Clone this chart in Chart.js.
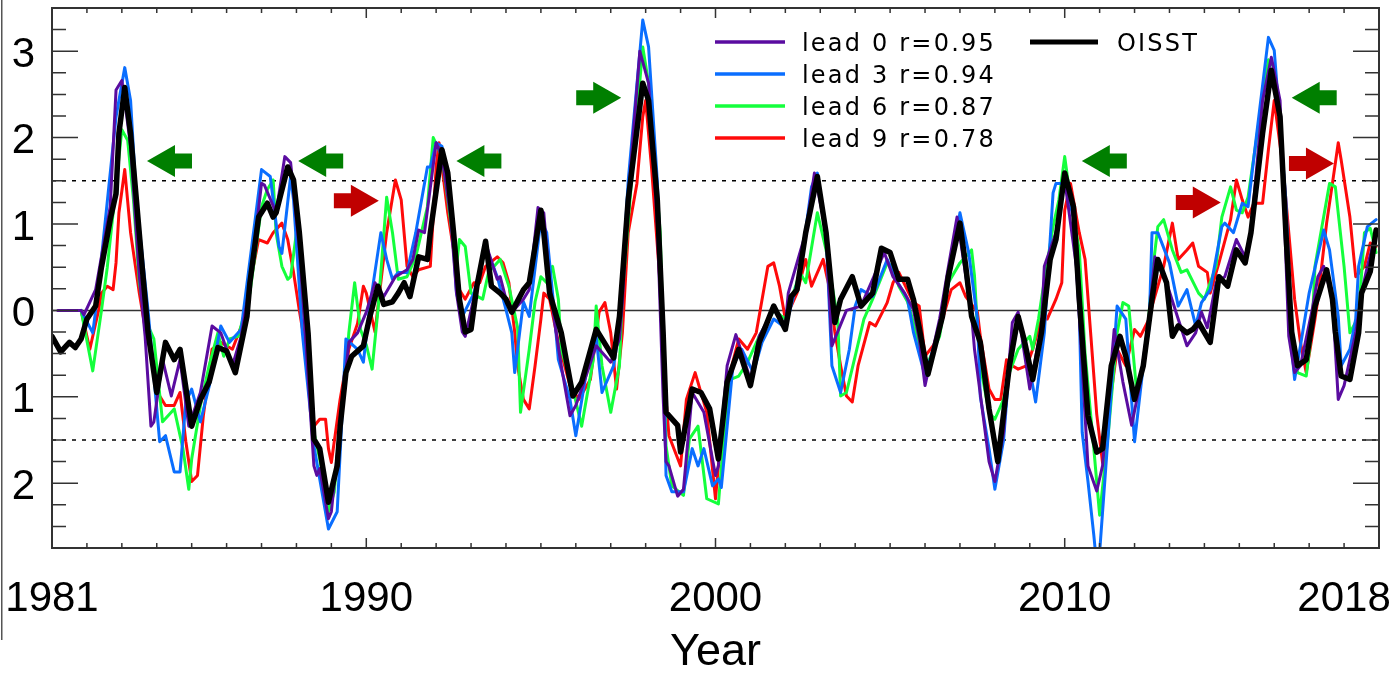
<!DOCTYPE html>
<html>
<head>
<meta charset="utf-8">
<script src="https://cdn.jsdelivr.net/npm/chart.js@4/dist/chart.umd.min.js"></script>
<style>
    html, body { margin: 0; padding: 0; background: #fff; }
    #wrap { width: 1395px; height: 673px; }
</style>
</head>
<body>
<div id="wrap"><canvas id="ninoChart" width="1395" height="673"></canvas></div>
<script>
// [month since Jan 1981, anomaly]
const oisst = [[0,-0.30],[3,-0.48],[6,-0.37],[8,-0.43],[10,-0.33],[12,-0.10],[15,0.05],[17,0.50],[20,1.05],[22,1.35],[23,2.05],[25,2.58],[27,2.05],[29,1.28],[31,0.50],[33,-0.25],[36,-0.95],[39,-0.37],[42,-0.57],[44,-0.45],[48,-1.34],[51,-1.03],[54,-0.83],[57,-0.43],[60,-0.47],[63,-0.72],[67,-0.07],[68,0.32],[71,1.08],[74,1.24],[76,1.08],[77,1.13],[81,1.66],[83,1.51],[85,0.90],[88,-0.26],[90,-1.49],[92,-1.60],[95,-2.22],[98,-1.80],[99,-1.35],[101,-0.72],[103,-0.53],[107,-0.41],[109,-0.10],[112,0.28],[114,0.07],[117,0.10],[119,0.20],[121,0.32],[123,0.16],[126,0.62],[129,0.59],[130,0.90],[134,1.86],[136,1.59],[138,0.90],[140,0.13],[142,-0.25],[144,-0.22],[146,0.28],[149,0.80],[151,0.28],[154,0.20],[156,0.13],[158,-0.02],[162,0.24],[164,0.32],[168,1.16],[169,0.90],[171,0.20],[175,-0.26],[179,-0.99],[182,-0.83],[187,-0.22],[193,-0.55],[195,-0.07],[198,1.28],[203,2.63],[205,2.43],[208,1.28],[210,-0.25],[211,-1.18],[215,-1.33],[216,-1.64],[220,-0.91],[223,-0.95],[226,-1.14],[229,-1.72],[232,-0.83],[236,-0.45],[240,-0.87],[243,-0.37],[248,0.05],[252,-0.22],[254,0.16],[256,0.24],[259,0.90],[263,1.55],[266,0.90],[269,-0.14],[271,0.13],[275,0.39],[278,0.05],[282,0.20],[285,0.72],[288,0.67],[291,0.36],[294,0.36],[296,0.13],[298,-0.20],[301,-0.74],[306,-0.07],[308,0.39],[312,1.01],[314,0.51],[316,-0.07],[319,-0.37],[322,-1.14],[325,-1.75],[329,-0.64],[332,-0.07],[334,-0.33],[337,-0.80],[340,-0.26],[343,0.59],[345,0.82],[348,1.59],[351,1.20],[353,0.13],[356,-1.22],[359,-1.64],[361,-1.60],[364,-0.64],[367,-0.30],[369,-0.53],[372,-1.03],[375,-0.64],[378,0.13],[380,0.59],[383,0.32],[385,-0.30],[387,-0.18],[390,-0.26],[392,-0.22],[394,-0.14],[398,-0.37],[401,0.39],[404,0.28],[407,0.70],[410,0.55],[412,0.90],[416,2.05],[419,2.78],[422,2.24],[424,0.90],[426,-0.25],[428,-0.64],[431,-0.57],[434,0.05],[438,0.47],[440,0.13],[441,-0.25],[443,-0.76],[446,-0.80],[449,-0.26],[450,0.20],[453,0.45],[455,0.93]];

const lead0 = [[2,0.00],[10,0.00],[11,-0.05],[15,0.24],[20,1.20],[22,2.55],[24,2.66],[25,2.43],[27,1.90],[30,0.40],[32,-0.30],[34,-1.34],[35,-1.29],[38,-0.57],[41,-0.99],[44,-0.57],[47,-1.34],[51,-0.95],[55,-0.18],[58,-0.26],[62,-0.64],[65,-0.30],[67,0.10],[69,0.60],[72,1.47],[73,1.45],[77,1.13],[80,1.78],[82,1.71],[85,0.70],[87,-0.25],[90,-1.80],[91,-1.91],[92,-1.83],[95,-2.41],[96,-2.33],[102,-0.37],[105,-0.26],[108,-0.02],[111,0.32],[114,0.16],[118,0.39],[122,0.47],[124,0.59],[126,0.93],[128,0.90],[132,1.94],[134,1.78],[137,1.08],[139,0.20],[141,-0.25],[142,-0.30],[146,0.30],[149,0.78],[153,0.36],[154,0.39],[156,0.13],[158,-0.02],[162,0.13],[164,0.24],[167,1.19],[169,1.13],[171,0.32],[173,-0.20],[175,-0.64],[178,-1.22],[180,-1.10],[182,-0.91],[187,-0.41],[192,-0.60],[195,-0.33],[196,0.10],[198,1.30],[202,3.00],[205,2.63],[208,1.00],[210,-1.00],[211,-1.75],[212,-1.80],[215,-2.15],[217,-2.07],[220,-0.95],[224,-1.18],[228,-1.91],[229,-1.80],[232,-0.64],[235,-0.28],[240,-0.80],[243,-0.30],[248,0.01],[252,-0.18],[253,0.20],[259,0.90],[262,1.59],[266,0.90],[268,-0.41],[273,0.00],[278,0.05],[286,0.67],[289,0.39],[293,0.20],[296,0.01],[298,-0.33],[300,-0.87],[305,-0.10],[308,0.50],[311,1.08],[316,-0.05],[317,-0.45],[322,-1.75],[324,-1.98],[327,-1.41],[330,-0.14],[332,-0.02],[336,-0.91],[340,-0.18],[341,0.51],[345,0.90],[348,1.51],[352,0.51],[354,-0.64],[356,-1.80],[359,-2.09],[361,-1.80],[365,-0.22],[368,-0.83],[371,-1.33],[374,-0.83],[377,-0.07],[379,0.62],[383,0.32],[387,-0.10],[390,-0.41],[393,-0.26],[395,-0.02],[397,-0.20],[400,0.32],[403,0.39],[407,0.82],[410,0.62],[412,0.90],[416,2.43],[419,2.93],[422,2.43],[425,-0.30],[427,-0.72],[429,-0.64],[433,0.00],[435,0.39],[437,0.51],[440,0.13],[442,-1.03],[444,-0.87],[448,-0.26],[450,0.20],[452,0.51],[455,0.90]];

const lead3 = [[10,0.00],[14,-0.26],[15,0.00],[16,0.28],[22,2.24],[25,2.81],[27,2.43],[29,1.28],[33,0.00],[37,-1.52],[39,-1.45],[42,-1.87],[44,-1.87],[46,-1.06],[48,-0.91],[51,-1.29],[54,-0.88],[58,-0.18],[61,-0.37],[65,-0.22],[72,1.63],[75,1.55],[78,0.74],[79,0.66],[82,1.55],[83,1.28],[86,-0.25],[90,-1.57],[92,-1.95],[95,-2.53],[98,-2.33],[101,-0.33],[105,-0.45],[107,-0.60],[109,0.00],[113,0.90],[115,0.59],[117,0.36],[119,0.44],[122,0.44],[125,0.90],[129,1.66],[130,1.66],[132,1.94],[134,1.90],[137,1.20],[139,0.20],[141,-0.07],[145,0.20],[149,0.74],[153,0.39],[156,0.01],[158,-0.26],[159,-0.72],[162,0.10],[164,-0.07],[168,1.05],[170,0.90],[172,0.20],[174,-0.57],[178,-1.03],[180,-1.45],[184,-0.64],[187,-0.30],[189,-0.95],[193,-0.64],[195,-0.20],[198,1.50],[203,3.36],[205,3.05],[208,1.50],[210,-0.25],[211,-1.91],[213,-2.10],[217,-2.10],[220,-1.60],[222,-1.80],[224,-1.60],[227,-2.03],[229,-1.95],[230,-2.05],[234,-0.64],[237,-0.45],[241,-0.72],[244,-0.37],[248,-0.10],[252,-0.20],[257,0.44],[261,1.43],[263,1.59],[266,0.90],[268,-0.64],[271,-0.95],[274,-0.45],[276,0.05],[278,0.24],[282,0.16],[287,0.59],[290,0.36],[294,0.13],[296,-0.25],[300,-0.76],[306,-0.10],[312,1.13],[315,0.67],[318,-0.10],[319,-1.00],[322,-1.60],[324,-2.07],[327,-1.50],[329,-0.64],[332,-0.14],[334,-0.30],[338,-1.06],[341,-0.26],[344,1.36],[345,1.47],[348,1.47],[351,1.08],[353,0.00],[354,-1.41],[356,-1.98],[358,-2.60],[359,-2.95],[360,-2.80],[363,-1.41],[366,0.05],[369,-0.10],[372,-1.52],[375,-0.64],[377,-0.20],[378,0.90],[380,0.90],[384,0.55],[387,0.05],[390,0.24],[393,-0.18],[395,0.09],[398,0.24],[402,0.97],[403,1.01],[406,0.90],[409,1.24],[411,1.20],[414,2.05],[418,3.16],[420,3.01],[424,1.28],[425,0.50],[426,-0.45],[427,-0.80],[429,-0.41],[431,0.00],[432,0.20],[437,0.93],[439,0.70],[442,-0.07],[443,-0.64],[446,-0.45],[448,-0.10],[449,0.51],[452,0.97],[455,1.05]];

const lead6 = [[10,0.00],[14,-0.70],[17,0.00],[19,0.50],[21,1.13],[24,2.09],[26,1.97],[28,1.28],[30,0.32],[32,-0.10],[35,-0.33],[38,-1.29],[42,-1.14],[45,-1.60],[47,-2.07],[48,-1.72],[51,-1.10],[54,-0.64],[57,-0.26],[59,-0.53],[61,-0.33],[64,-0.30],[68,0.20],[72,1.20],[74,1.40],[76,1.51],[77,0.90],[79,0.51],[81,0.36],[82,0.39],[84,0.90],[86,0.13],[88,-0.50],[90,-1.41],[92,-1.72],[95,-2.33],[97,-2.10],[99,-1.30],[101,-0.70],[102,-0.26],[104,0.32],[106,-0.22],[108,-0.40],[110,-0.68],[112,0.00],[115,1.31],[117,0.90],[119,0.36],[122,0.39],[125,0.62],[129,1.20],[131,2.00],[134,1.78],[136,1.28],[139,0.51],[140,0.82],[142,0.74],[144,0.20],[148,0.13],[150,0.44],[154,0.59],[157,0.28],[160,-0.20],[161,-1.18],[164,-0.45],[166,0.10],[168,0.39],[170,0.32],[172,0.51],[174,0.13],[175,-0.45],[179,-0.91],[182,-1.34],[186,-0.57],[187,0.05],[189,-0.64],[192,-1.18],[195,-0.64],[196,0.20],[197,0.60],[200,1.86],[203,3.05],[205,2.63],[209,0.90],[210,-0.30],[211,-1.57],[213,-2.03],[217,-2.14],[219,-1.49],[222,-1.34],[225,-2.18],[229,-2.24],[231,-1.41],[233,-0.80],[236,-0.76],[239,-0.60],[243,-0.30],[248,0.00],[252,-0.10],[257,0.44],[259,0.32],[263,1.13],[266,0.70],[270,-0.10],[271,-0.99],[273,-0.95],[276,-0.53],[279,-0.10],[282,0.13],[287,0.55],[289,0.50],[291,0.28],[294,0.10],[296,-0.14],[300,-0.68],[305,-0.30],[308,0.32],[312,0.55],[316,0.70],[317,0.40],[318,-0.20],[319,-0.64],[322,-1.18],[324,-1.26],[327,-1.03],[329,-0.72],[332,-0.45],[336,-0.30],[337,-0.45],[339,-0.10],[340,0.13],[344,0.97],[346,1.28],[348,1.78],[350,1.28],[353,0.70],[355,-0.50],[358,-1.60],[360,-2.37],[363,-1.41],[366,-0.26],[368,0.09],[370,0.05],[373,-1.03],[376,-0.45],[378,0.40],[380,0.97],[382,1.05],[385,0.70],[388,0.44],[390,0.47],[394,0.20],[396,0.13],[400,0.51],[402,1.08],[405,1.43],[407,1.16],[409,1.13],[411,1.31],[415,2.24],[418,2.90],[420,2.81],[422,2.24],[424,0.90],[426,-0.30],[428,-0.72],[431,-0.76],[433,-0.20],[434,0.51],[439,1.47],[441,1.43],[444,0.51],[446,-0.26],[449,-0.07],[451,0.90],[453,0.95],[455,0.67]];

const lead9 = [[10,0.00],[13,-0.45],[16,0.00],[17,0.20],[19,0.28],[21,0.24],[22,0.55],[23,1.13],[25,1.63],[27,0.90],[30,0.20],[32,-0.20],[35,-0.64],[37,-0.99],[39,-1.10],[42,-1.10],[44,-0.95],[46,-1.52],[48,-1.98],[50,-1.91],[52,-1.22],[55,-0.45],[58,-0.37],[62,-0.45],[66,-0.10],[67,0.13],[71,0.82],[74,0.78],[76,0.90],[79,1.01],[81,0.82],[83,0.44],[85,0.00],[87,-0.40],[90,-1.34],[92,-1.26],[94,-1.26],[95,-1.60],[96,-1.76],[99,-1.03],[102,-0.45],[105,-0.15],[107,0.28],[108,0.20],[111,-0.25],[115,0.90],[118,1.51],[120,1.28],[122,0.51],[124,0.39],[126,0.47],[130,0.51],[132,1.66],[133,1.94],[136,1.13],[138,0.70],[140,0.24],[142,0.13],[145,0.32],[147,0.32],[149,0.51],[153,0.62],[155,0.55],[157,0.32],[159,-0.25],[160,-0.64],[162,-1.03],[164,-1.14],[166,-0.64],[168,-0.10],[169,0.20],[171,0.13],[174,-0.37],[178,-0.87],[181,-1.03],[185,-0.80],[188,-0.02],[190,0.09],[192,-0.26],[194,-0.91],[196,-0.26],[198,0.90],[201,1.47],[203,2.24],[204,2.43],[206,1.66],[209,0.30],[210,-0.50],[211,-1.03],[212,-1.45],[216,-1.80],[218,-1.03],[221,-0.72],[225,-1.18],[228,-2.18],[230,-1.41],[233,-0.72],[236,-0.33],[239,-0.45],[242,-0.26],[246,0.51],[248,0.55],[250,0.28],[252,-0.10],[256,0.20],[259,0.59],[261,0.28],[265,0.59],[267,0.28],[269,-0.25],[271,-0.64],[273,-0.99],[275,-1.06],[277,-0.64],[281,-0.14],[283,-0.18],[287,0.09],[289,0.32],[291,0.44],[296,0.09],[298,0.05],[300,-0.53],[303,-0.40],[306,-0.10],[309,0.24],[312,0.32],[314,0.16],[318,-0.02],[319,-0.30],[322,-0.91],[324,-1.03],[326,-1.03],[328,-0.57],[330,-0.64],[332,-0.68],[335,-0.64],[337,-0.45],[340,-0.10],[342,-0.10],[345,0.13],[347,0.32],[348,1.16],[350,1.47],[353,0.90],[355,0.59],[357,-0.30],[359,-1.20],[361,-1.76],[363,-1.20],[366,-0.45],[369,-0.64],[372,-0.22],[374,-0.30],[377,-0.10],[378,0.05],[382,0.51],[385,1.01],[387,0.59],[390,0.70],[392,0.78],[394,0.51],[397,0.44],[398,0.20],[401,0.55],[405,1.05],[407,1.51],[409,1.28],[411,1.08],[413,1.24],[416,1.24],[418,1.86],[420,2.43],[423,1.66],[425,0.90],[427,0.13],[429,-0.37],[431,-0.72],[434,-0.10],[435,0.13],[438,1.01],[440,1.47],[442,1.94],[443,1.74],[446,1.08],[448,0.39],[451,0.51],[453,0.78],[455,0.74]];

const seriesNames = ['OISST', 'lead 0 r=0.95', 'lead 3 r=0.94', 'lead 6 r=0.87', 'lead 9 r=0.78'];
const xTickYears = [1981, 1990, 2000, 2010, 2018];
const yTickValues = [-2, -1, 0, 1, 2, 3];
const dottedLevels = [1.5, -1.5];

// arrow tips in data units: year, anomaly, direction (+1 right, -1 left)
const greenArrows = [[1983.72, 1.73, -1], [1988.05, 1.73, -1], [1992.58, 1.73, -1], [1997.30, 2.46, 1], [2010.49, 1.73, -1], [2016.50, 2.46, -1]];
const redArrows = [[1990.36, 1.27, 1], [2014.47, 1.25, 1], [2017.71, 1.70, 1]];

const colors = ['#000000', '#5a0ca0', '#0a6eff', '#14ff3c', '#ff0a0a'];
const widths = [5.5, 3, 3, 3, 3];
const labelFont = 'Liberation Sans, Arial, sans-serif';

function toPoints(series) {
    return series.map(([m, v]) => ({ x: 1981 + m / 12, y: v }));
}

function drawArrow(ctx, x, y, dir, color) {
    const len = 45, head = 28, hw = 16, sw = 7.5;
    ctx.fillStyle = color;
    ctx.beginPath();
    ctx.moveTo(x, y);
    ctx.lineTo(x - dir * head, y - hw);
    ctx.lineTo(x - dir * head, y - sw);
    ctx.lineTo(x - dir * len, y - sw);
    ctx.lineTo(x - dir * len, y + sw);
    ctx.lineTo(x - dir * head, y + sw);
    ctx.lineTo(x - dir * head, y + hw);
    ctx.closePath();
    ctx.fill();
}

// the scales must not push the plot box in for overhanging labels
function noLabelPadding(s) {
    s.paddingLeft = 0;
    s.paddingRight = 0;
    s.paddingTop = 0;
    s.paddingBottom = 0;
}

const framePlugin = {
    id: 'frame',
    beforeDatasetsDraw(chart) {
        const { ctx, chartArea: a, scales: { x, y } } = chart;
        ctx.save();
        ctx.lineWidth = 1.5;
        ctx.strokeStyle = '#333';
        const y0 = y.getPixelForValue(0);
        ctx.beginPath();
        ctx.moveTo(a.left, y0);
        ctx.lineTo(a.right, y0);
        ctx.stroke();
        ctx.strokeStyle = '#000';
        ctx.setLineDash([4, 6]);
        for (const lv of dottedLevels) {
            const py = y.getPixelForValue(lv);
            ctx.beginPath();
            ctx.moveTo(a.left, py);
            ctx.lineTo(a.right, py);
            ctx.stroke();
        }
        ctx.restore();
    },
    afterDatasetsDraw(chart) {
        const { ctx, chartArea: a, scales: { x, y } } = chart;
        ctx.save();
        ctx.strokeStyle = '#333';
        ctx.lineWidth = 2;
        ctx.strokeRect(a.left, a.top, a.right - a.left, a.bottom - a.top);
        ctx.lineWidth = 1.5;
        ctx.beginPath();
        for (let k = -11; k <= 14; k++) {
            const py = y.getPixelForValue(k / 4);
            const len = k % 4 === 0 ? 26 : 14;
            ctx.moveTo(a.left, py); ctx.lineTo(a.left + len, py);
            ctx.moveTo(a.right, py); ctx.lineTo(a.right - len, py);
        }
        for (let yr = 1982; yr <= 2018; yr++) {
            const px = x.getPixelForValue(yr);
            const len = yr % 10 === 0 ? 10 : 5;
            ctx.moveTo(px, a.bottom); ctx.lineTo(px, a.bottom - len);
            ctx.moveTo(px, a.top); ctx.lineTo(px, a.top + len);
        }
        ctx.stroke();

        for (const [t, v, dir] of greenArrows) {
            drawArrow(ctx, x.getPixelForValue(t), y.getPixelForValue(v), dir, '#007f00');
        }
        for (const [t, v, dir] of redArrows) {
            drawArrow(ctx, x.getPixelForValue(t), y.getPixelForValue(v), dir, '#c00000');
        }
        ctx.restore();
    },
    afterDraw(chart) {
        const ctx = chart.ctx;
        ctx.save();
        // legend, two columns
        ctx.font = '24px "DejaVu Sans", sans-serif';
        ctx.letterSpacing = '2.2px';
        ctx.textBaseline = 'alphabetic';
        ctx.fillStyle = '#000';
        for (let i = 1; i < seriesNames.length; i++) {
            const ly = 42 + (i - 1) * 32;
            ctx.strokeStyle = colors[i];
            ctx.lineWidth = 3.5;
            ctx.beginPath();
            ctx.moveTo(715, ly); ctx.lineTo(785, ly);
            ctx.stroke();
            ctx.fillText(seriesNames[i], 802, ly + 9);
        }
        ctx.strokeStyle = colors[0];
        ctx.lineWidth = 5;
        ctx.beginPath();
        ctx.moveTo(1030, 42); ctx.lineTo(1098, 42);
        ctx.stroke();
        ctx.fillText(seriesNames[0], 1117, 51);
        // figure edge on the left
        ctx.fillStyle = '#555';
        ctx.fillRect(1, 0, 1.5, 640);
        ctx.restore();
    }
};

const allSeries = [oisst, lead0, lead3, lead6, lead9];

new Chart(
    document.getElementById('ninoChart'),
    {
        type: 'line',
        data: {
            datasets: allSeries.map((s, i) => ({
                label: seriesNames[i],
                data: toPoints(s),
                borderColor: colors[i],
                borderWidth: widths[i],
                pointRadius: 0,
                fill: false,
                tension: 0,
                borderJoinStyle: 'round',
                borderCapStyle: 'round'
            }))
        },
        options: {
            responsive: false,
            animation: false,
            devicePixelRatio: 1,
            events: [],
            layout: { padding: { top: 8, right: 16, left: 0, bottom: 0 }, autoPadding: false },
            plugins: { legend: { display: false }, tooltip: { enabled: false } },
            scales: {
                x: {
                    type: 'linear',
                    min: 1981,
                    max: 2019,
                    afterBuildTicks: s => { s.ticks = xTickYears.map(v => ({ value: v })); },
                    afterFit: s => { s.height = 125; noLabelPadding(s); },
                    grid: { display: false, drawTicks: false },
                    border: { display: false },
                    ticks: {
                        callback: v => String(v),
                        font: { family: labelFont, size: 42 },
                        color: '#000',
                        padding: 26,
                        maxRotation: 0,
                        autoSkip: false
                    },
                    title: {
                        display: true,
                        text: 'Year',
                        color: '#000',
                        font: { family: labelFont, size: 45, lineHeight: 0.9 },
                        padding: 0
                    }
                },
                y: {
                    type: 'linear',
                    min: -2.75,
                    max: 3.5,
                    afterBuildTicks: s => { s.ticks = yTickValues.map(v => ({ value: v })); },
                    afterFit: s => { s.width = 52; noLabelPadding(s); },
                    grid: { display: false, drawTicks: false },
                    border: { display: false },
                    ticks: {
                        callback: v => String(Math.abs(v)),
                        font: { family: labelFont, size: 42 },
                        color: '#000',
                        padding: 17,
                        labelOffset: 4
                    }
                }
            }
        },
        plugins: [framePlugin]
    }
);
</script>
</body>
</html>
